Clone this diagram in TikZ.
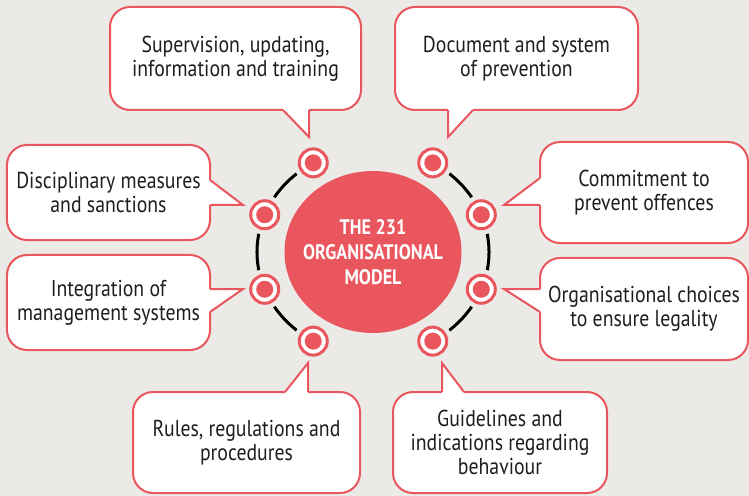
\documentclass[tikz,border=0pt]{standalone}
\usepackage{fontspec}
\setmainfont{PT Sans}[FakeStretch=0.86]
\usetikzlibrary{calc,shapes.geometric}

\definecolor{modelred}{RGB}{233,86,94}
\definecolor{paper}{RGB}{236,234,230}
\definecolor{ink}{RGB}{30,30,30}

\begin{document}
\begin{tikzpicture}[
    x=1bp, y=-1bp,
    % --- Node styles ---
    model/.style={ellipse, fill=modelred, text=white,
      inner xsep=-25bp, inner ysep=0pt,
      minimum width=177bp, minimum height=162bp, align=center,
      font=\fontsize{21bp}{25bp}\selectfont\bfseries},
    bubble/.style={rectangle, draw=modelred, line width=2bp, fill=white,
      rounded corners=20bp, align=center, inner sep=0pt, outer sep=0pt,
      text=ink, font=\fontsize{23bp}{24bp}\selectfont},
    ring/.style={circle, draw=modelred, line width=3bp, fill=white,
      minimum size=28bp, inner sep=0pt,
      preaction={draw=paper, line width=12bp},
      path picture={\fill[modelred] (path picture bounding box.center) circle (8.5bp);}},
    % --- Edge styles ---
    orbit/.style={line width=3bp, black},
    tail/.style={draw=modelred, line width=2bp, line join=miter},
]

% === Canvas ===
\fill[paper] (0,0) rectangle (749,496);
\useasboundingbox (0,0) rectangle (749,496);

% === Centre: the model ===
\node[model] (model) at (373,252) {THE 231\\ORGANISATIONAL\\MODEL};

% Ring positions on the orbit (116 x 104)
\coordinate (p1) at ($(model)+(121:116bp and 104bp)$);
\coordinate (p2) at ($(model)+(59:116bp and 104bp)$);
\coordinate (p3) at ($(model)+(159:116bp and 104bp)$);
\coordinate (p4) at ($(model)+(21:116bp and 104bp)$);
\coordinate (p5) at ($(model)+(201:116bp and 104bp)$);
\coordinate (p6) at ($(model)+(-21:116bp and 104bp)$);
\coordinate (p7) at ($(model)+(239:116bp and 104bp)$);
\coordinate (p8) at ($(model)+(-59:116bp and 104bp)$);

% Orbit arcs, left and right
\draw[orbit] (p1) arc[start angle=121, end angle=239, x radius=116bp, y radius=104bp];
\draw[orbit] (p2) arc[start angle=59, end angle=-59, x radius=116bp, y radius=104bp];

% Rings
\node[ring] (r1) at (p1) {};
\node[ring] (r2) at (p2) {};
\node[ring] (r3) at (p3) {};
\node[ring] (r4) at (p4) {};
\node[ring] (r5) at (p5) {};
\node[ring] (r6) at (p6) {};
\node[ring] (r7) at (p7) {};
\node[ring] (r8) at (p8) {};

% === Speech bubbles ===
\node[bubble, minimum width=251bp, minimum height=103bp] (sup) at (235.5,58.5)
  {Supervision, updating,\\information and training};
\node[bubble, minimum width=243bp, minimum height=103bp] (doc) at (516.5,58.5)
  {Document and system\\of prevention};
\node[bubble, minimum width=203bp, minimum height=95bp] (dis) at (108.5,192.5)
  {Disciplinary measures\\and sanctions};
\node[bubble, minimum width=203bp, minimum height=95bp] (integ) at (108.5,302.5)
  {Integration of\\management systems};
\node[bubble, minimum width=227bp, minimum height=101bp] (rules) at (246.5,442.5)
  {Rules, regulations and\\procedures};
\node[bubble, minimum width=214bp, minimum height=101bp] (guide) at (500,442.5)
  {Guidelines and\\indications regarding\\behaviour};
\node[bubble, minimum width=208bp, minimum height=101bp] (comm) at (644,192.5)
  {Commitment to\\prevent offences};
\node[bubble, minimum width=208bp, minimum height=102bp] (org) at (644,309)
  {Organisational choices\\to ensure legality};

% --- Tails: tip near each ring, base on the bubble edge ---
\coordinate (supTip) at (309,137);
\coordinate (supA) at (sup.south -| supTip);
\coordinate (supB) at ($(supA)+(-26,0)$);
\fill[white] (supA) -- (supTip) -- (supB) -- ++(0,-3) -- ($(supA)+(0,-3)$) -- cycle;
\draw[tail] (supA) -- (supTip) -- (supB);

\coordinate (docTip) at (448,137);
\coordinate (docA) at (doc.south -| docTip);
\coordinate (docB) at ($(docA)+(25,0)$);
\fill[white] (docA) -- (docTip) -- (docB) -- ++(0,-3) -- ($(docA)+(0,-3)$) -- cycle;
\draw[tail] (docA) -- (docTip) -- (docB);

\coordinate (disTip) at (243,205);
\coordinate (disA) at (dis.east |- disTip);
\coordinate (disB) at ($(disA)+(0,-25)$);
\fill[white] (disA) -- (disTip) -- (disB) -- ++(-3,0) -- ($(disA)+(-3,0)$) -- cycle;
\draw[tail] (disA) -- (disTip) -- (disB);

\coordinate (integTip) at (243,289);
\coordinate (integA) at (integ.east |- integTip);
\coordinate (integB) at ($(integA)+(0,23)$);
\fill[white] (integA) -- (integTip) -- (integB) -- ++(-3,0) -- ($(integA)+(-3,0)$) -- cycle;
\draw[tail] (integA) -- (integTip) -- (integB);

\coordinate (rulesTip) at (308,363);
\coordinate (rulesA) at (rules.north -| rulesTip);
\coordinate (rulesB) at ($(rulesA)+(-23,0)$);
\fill[white] (rulesA) -- (rulesTip) -- (rulesB) -- ++(0,3) -- ($(rulesA)+(0,3)$) -- cycle;
\draw[tail] (rulesA) -- (rulesTip) -- (rulesB);

\coordinate (guideTip) at (442,363);
\coordinate (guideA) at (guide.north -| guideTip);
\coordinate (guideB) at ($(guideA)+(22,0)$);
\fill[white] (guideA) -- (guideTip) -- (guideB) -- ++(0,3) -- ($(guideA)+(0,3)$) -- cycle;
\draw[tail] (guideA) -- (guideTip) -- (guideB);

\coordinate (commTip) at (504,205);
\coordinate (commA) at (comm.west |- commTip);
\coordinate (commB) at ($(commA)+(0,-27)$);
\fill[white] (commA) -- (commTip) -- (commB) -- ++(3,0) -- ($(commA)+(3,0)$) -- cycle;
\draw[tail] (commA) -- (commTip) -- (commB);

\coordinate (orgTip) at (504,289);
\coordinate (orgA) at (org.west |- orgTip);
\coordinate (orgB) at ($(orgA)+(0,23)$);
\fill[white] (orgA) -- (orgTip) -- (orgB) -- ++(3,0) -- ($(orgA)+(3,0)$) -- cycle;
\draw[tail] (orgA) -- (orgTip) -- (orgB);

\end{tikzpicture}
\end{document}
